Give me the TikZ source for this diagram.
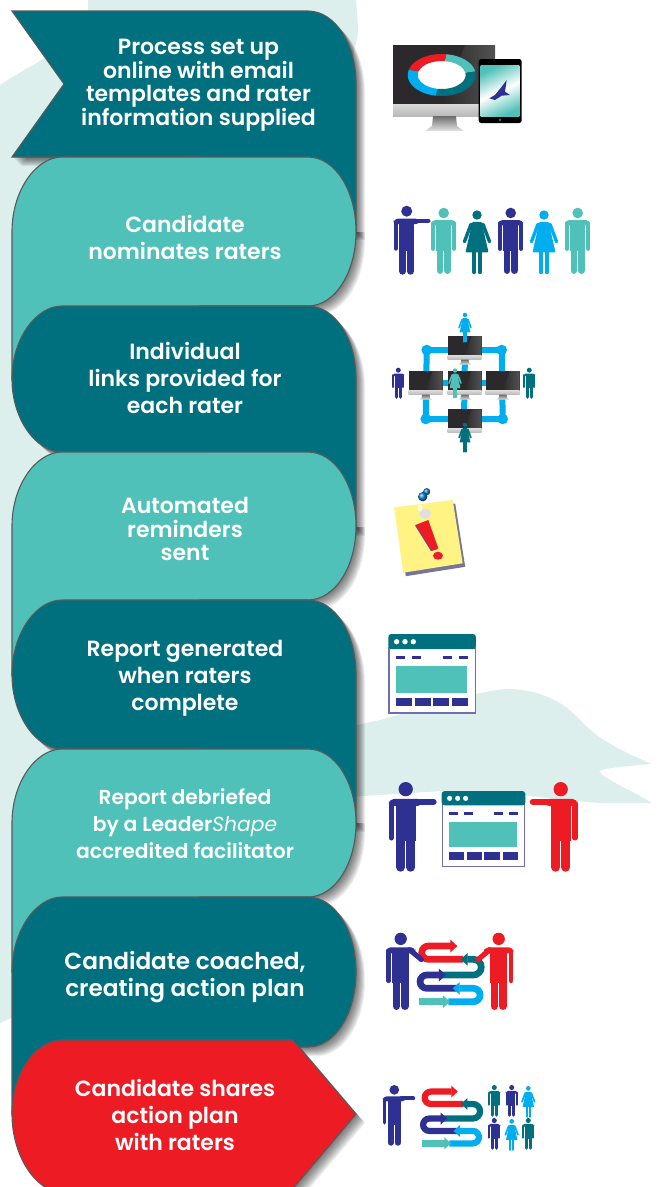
\documentclass[tikz,border=0pt]{standalone}
\usepackage{fontspec}
\setmainfont{Poppins}[BoldFont=Poppins SemiBold]
\usetikzlibrary{arrows.meta}

\definecolor{darkteal}{HTML}{00707F}
\definecolor{mint}{HTML}{4FC1B8}
\definecolor{alarm}{HTML}{ED1C24}
\definecolor{navy}{HTML}{2E3192}
\definecolor{sky}{HTML}{00AEEF}
\definecolor{pale}{HTML}{DCEFEC}
\definecolor{edge}{HTML}{58595B}
\definecolor{screen}{HTML}{2B292B}
\definecolor{frameline}{HTML}{6F6FB0}

\tikzset{
    steptext/.style={text=white,align=center,inner sep=0pt,font=\bfseries\fontsize{22}{27}\selectfont},
    tighttext/.style={steptext,font=\bfseries\fontsize{22}{23.5}\selectfont},
    widetext/.style={steptext,font=\bfseries\fontsize{23.2}{27}\selectfont},
    smalltext/.style={steptext,font=\bfseries\fontsize{20.3}{27}\selectfont},
    bandline/.style={draw=edge,line width=1.1pt},
    limb/.style={line cap=round},
    pipe/.style={sky,line width=6pt},
    snakeline/.style={-{Triangle[length=0pt 1.05,width=0pt 1.85]}},
}

% colour, y from which the shadow shows, outline
\newcommand\bandfill[3]{
    \begin{scope}
        \clip (0,#2) rectangle (660,1187);
        \foreach \d in {1,...,9}
            \fill[black,opacity=.075,shift={(\d,\d)}] #3;
    \end{scope}
    \path[bandline,fill=#1] #3;
}
% the left side runs on under the next band
\newcommand\bandleft[5]{
    \pgfmathsetmacro\midy{(#2+#3)/2}
    \pgfmathsetmacro\ctop{\midy-.55*(#3-#2)/2}
    \pgfmathsetmacro\cbot{\midy+.55*(#3-#2)/2}
    \bandfill{#1}{#5}{(12,\midy) .. controls (12,\ctop) and (36,#2) .. (62,#2) -- (308,#2)
        .. controls (335,#2) and (356,\ctop) .. (356,\midy) .. controls (356,\cbot) and (335,#3) .. (308,#3)
        -- (200,#3) -- (200,#4) -- (12,#4) -- cycle}
}
% the right side runs on under the next band
\newcommand\bandright[4]{
    \pgfmathsetmacro\midy{(#2+#3)/2}
    \pgfmathsetmacro\ctop{\midy-.55*(#3-#2)/2}
    \pgfmathsetmacro\cbot{\midy+.55*(#3-#2)/2}
    \bandfill{#1}{#2}{(12,\midy) .. controls (12,\ctop) and (36,#2) .. (62,#2) -- (308,#2)
        .. controls (335,#2) and (356,\ctop) .. (356,\midy) -- (356,#4) -- (200,#4) -- (200,#3) -- (62,#3)
        .. controls (36,#3) and (12,\cbot) .. (12,\midy) -- cycle}
}

\newcommand\armdown{\draw[limb,line width=\figs*4pt] (11,17) -- (11,43);}
\newcommand\armout{\draw[limb,line width=\figs*4.6pt] (8,15.2) -- (21.5,15.2);}
\newcommand\armreach{\draw[limb,line width=\figs*4.6pt] (8,15.2) -- (18.5,24);}

\newcommand\manfig[6][]{
    \begin{scope}[shift={(#2,#3)},x=#4pt,y=-#4pt,color=#5,#1]
        \def\figs{#4}
        \fill (0,5.5) circle (5.5);
        \fill[rounded corners=#4*4pt] (-13,18.5) -- (-13,13) -- (13,13) -- (13,18.5) -- cycle;
        \fill (-7.6,15) rectangle (7.6,45);
        \draw[limb,line width=#4*4pt] (-11,17) -- (-11,43);
        \draw[limb,line width=#4*6.8pt] (-3.9,44) -- (-3.9,65.6);
        \draw[limb,line width=#4*6.8pt] (3.9,44) -- (3.9,65.6);
        #6
    \end{scope}
}
\newcommand\womanfig[4]{
    \begin{scope}[shift={(#1,#2)},x=#3pt,y=-#3pt,color=#4]
        \fill (0,4.7) circle (4.7);
        \fill[rounded corners=#3*1pt] (-4.6,11.5) -- (4.6,11.5) -- (11.5,42) -- (-11.5,42) -- cycle;
        \draw[limb,line width=#3*3.4pt] (-6,14) -- (-12.6,31.5);
        \draw[limb,line width=#3*3.4pt] (6,14) -- (12.6,31.5);
        \draw[limb,line width=#3*4.2pt] (-2.8,42) -- (-2.8,61.8);
        \draw[limb,line width=#3*4.2pt] (2.8,42) -- (2.8,61.8);
    \end{scope}
}
\newcommand\monitorfig[3]{
    \begin{scope}[shift={(#1,#2)},x=#3pt,y=-#3pt]
        \fill[screen] (0,0) rectangle (102,59);
        \shade[left color=screen,right color=gray!65!black] (72,0) -- (102,0) -- (102,59) -- (50,59) -- cycle;
        \shade[top color=gray!30,bottom color=gray!55] (0,59) rectangle (102,71);
        \shade[top color=gray!85!black,bottom color=gray!20] (40,71) -- (63,71) -- (64,81) -- (71,86) -- (32,86) -- (39,81) -- cycle;
    \end{scope}
}
\newcommand\windowfig[3]{
    \begin{scope}[shift={(#1,#2)},x=#3pt,y=-#3pt]
        \filldraw[fill=white,draw=frameline,line width=1.2pt] (.6,14) rectangle (87,79);
        \fill[darkteal,rounded corners=3pt] (0,15) -- (0,0) -- (87.6,0) -- (87.6,15) -- cycle;
        \foreach \cx in {8.3,16.7,25}
            \fill[white] (\cx,7.7) circle (2.7);
        \foreach \cx in {7.7,23.7,54.7,70.7}
            \fill[navy] (\cx,22) rectangle ++(9,3);
        \fill[mint] (7.7,32) rectangle (78.7,59);
        \foreach \cx in {7.7,26.7,44.7,63.7}
            \fill[navy] (\cx,64) rectangle ++(16,8);
    \end{scope}
}
\newcommand\snakefig[3]{
    \begin{scope}[shift={(#1,#2)},x=#3pt,y=-#3pt,line width=#3*6.7pt]
        \draw[alarm,snakeline] (46.7,19.3) -- (11.7,19.3) arc[start angle=90,end angle=270,radius=6.65] -- (40.7,6);
        \draw[darkteal,snakeline] (25,35) -- (56.7,35) arc[start angle=90,end angle=-90,radius=7.85] -- (44,19.3);
        \draw[navy,snakeline] (40.7,48.3) -- (10,48.3) arc[start angle=90,end angle=270,radius=6.65] -- (29.3,35);
        \draw[sky,snakeline] (31.7,61.7) -- (56.7,61.7) arc[start angle=90,end angle=-90,radius=6.7] -- (36,48.3);
        \draw[mint,snakeline] (2.3,61.7) -- (33.3,61.7);
    \end{scope}
}

\begin{document}
\begin{tikzpicture}[x=1pt,y=-1pt]
    \useasboundingbox (0,0) rectangle (660,1187);

    % pale shapes behind everything
    \fill[pale] (0,85) .. controls (20,72) and (35,64) .. (45,58) -- (88,35) -- (88,0) -- (356,0)
        .. controls (358,20) and (358,30) .. (358,33) -- (340,120) -- (200,300) -- (200,1000) -- (12.7,1017) -- (0,1023) -- cycle;
    \fill[pale] (300,725) -- (357,725) -- (380,720) -- (440,703) .. controls (470,695) and (495,689) .. (510,689)
        .. controls (535,690) and (550,697) .. (563,705) .. controls (575,713) and (585,726) .. (593,732)
        .. controls (605,742) and (625,753) .. (652,764) .. controls (630,766) and (610,767) .. (599,771)
        .. controls (605,780) and (635,792) .. (652,803) -- (600,803) .. controls (550,799) and (490,790) .. (442,791)
        -- (380,795) -- (300,800) -- cycle;

    % bands, top to bottom
    \bandfill{darkteal}{0}{(12,11) -- (308,11) .. controls (335,11) and (356,44) .. (356,84) -- (356,231)
        -- (200,231) -- (200,157) -- (12,157) -- (64,84) -- cycle}
    \bandleft{mint}{157}{306}{379}{232}
    \bandright{darkteal}{306}{452}{527}
    \bandleft{mint}{452}{600}{675}{527}
    \bandright{darkteal}{600}{749}{823}
    \bandleft{mint}{749}{897}{972}{823}
    \bandleft{darkteal}{897}{1047}{1114}{897}
    \bandfill{alarm}{0}{(12,1114) .. controls (12,1072) and (36,1040) .. (62,1040) -- (293,1040) -- (356,1114)
        -- (290,1192) -- (62,1192) .. controls (36,1192) and (12,1156) .. (12,1114) -- cycle}

    \node[tighttext] (setup) at (198.5,85) {Process set up\\online with email\\templates and rater\\information supplied};
    \node[steptext] (nominate) at (185,237) {Candidate\\nominates raters};
    \node[steptext] (links) at (185,378) {Individual\\links provided for\\each rater};
    \node[tighttext] (reminders) at (185,529) {Automated\\reminders\\sent};
    \node[steptext] (generated) at (185,678) {Report generated\\when raters\\complete};
    \node[smalltext] (debrief) at (185,824) {Report debriefed\\by a Leader{\mdseries\itshape Shape}\\accredited facilitator};
    \node[widetext] (coached) at (185,977) {Candidate coached,\\creating action plan};
    \node[steptext] (shares) at (175,1115) {Candidate shares\\action plan\\with raters};

    % desktop and tablet
    \monitorfig{393}{45}{1}
    \begin{scope}[shift={(441.7,75)}]
        \fill[white] (0,0) ellipse [x radius=26,y radius=16];
        \foreach \segcol/\a/\b in {darkteal/-10/100,sky/100/195,alarm/195/278,mint/278/350}
            \fill[\segcol] ({34*cos(\a)},{21*sin(\a)}) arc[start angle=\a,end angle=\b,x radius=34,y radius=21]
                -- ({24*cos(\b)},{14*sin(\b)}) arc[start angle=\b,end angle=\a,x radius=24,y radius=14] -- cycle;
    \end{scope}
    \fill[black,rounded corners=2.5pt] (478.7,59) rectangle (521.7,123);
    \shade[top color=mint,bottom color=mint,middle color=white,shading angle=25] (480.7,65) rectangle (519.3,116.7);
    \fill[navy] (489.3,98.3) -- (495,95) -- (501.7,86.7) -- (506.7,80) -- (505,91.7) -- (510,95) -- (501.7,95.7) -- (495,100) -- cycle;
    \fill[gray!70!black] (500,119.8) circle (1.5);

    % people under the candidate band
    \manfig{406.7}{205.7}{1}{navy}{\armout}
    \manfig{443.7}{207.7}{.96}{mint}{\armdown}
    \womanfig{477}{210.3}{1}{darkteal}
    \manfig{510.7}{207.7}{.96}{navy}{\armdown}
    \womanfig{544}{210.3}{1}{sky}
    \manfig{577.7}{207.7}{.96}{mint}{\armdown}

    % network of screens
    \coordinate (nw) at (426.7,350);
    \coordinate (ne) at (501.7,350);
    \coordinate (se) at (502.7,419);
    \coordinate (sw) at (425.7,419);
    \coordinate (top) at (465,350);
    \coordinate (bottom) at (464,419);
    \coordinate (west) at (426,382.7);
    \coordinate (east) at (503,382.7);
    \draw[pipe] (nw) -- (ne) -- (se) -- (sw) -- cycle;
    \draw[pipe] (top) -- (bottom);
    \draw[pipe] (west) -- (east);
    \foreach \corner in {nw,ne,se,sw}
        \fill[sky] (\corner) circle (5.3);
    \monitorfig{447.7}{336}{.333}
    \monitorfig{408.7}{371}{.333}
    \monitorfig{447.7}{371}{.333}
    \monitorfig{485.7}{371}{.333}
    \monitorfig{447.7}{409.3}{.333}
    \womanfig{465}{312.7}{.47}{sky}
    \manfig{398.3}{367.7}{.45}{navy}{\armdown}
    \manfig{529.3}{367.7}{.45}{darkteal}{\armdown}
    \womanfig{455}{368.3}{.47}{mint}
    \womanfig{465}{422.7}{.47}{darkteal}

    % note with pin
    \fill[frameline!55!gray] (396.5,510.8) -- (455.2,503.5) -- (465.2,566.8) -- (405.8,576.2) -- cycle;
    \fill[yellow!45!white!95!orange] (394,507.3) -- (452.7,500) -- (462.7,563.3) -- (403.3,572.7) -- cycle;
    \fill[navy!80] (415,525.5) -- (427.5,520.5) -- (437.5,549) -- (431,551.2) -- cycle;
    \fill[alarm] (415.7,525) -- (428.3,520) -- (438.3,548.3) -- (431.7,550.7) -- cycle;
    \fill[alarm] (438,555.7) ellipse [x radius=5,y radius=4];
    \fill[gray!25] (425,513.5) ellipse [x radius=6,y radius=5];
    \fill[white!85!yellow] (420,508) ellipse [x radius=2.5,y radius=3.5];
    \shade[ball color=sky!60!navy] (426.7,491.7) circle (3.6);
    \shade[ball color=sky!60!navy] (422.7,496.7) circle (4.7);

    % report screens and people
    \windowfig{388.3}{634}{1}
    \windowfig{441.7}{791}{.955}
    \manfig{405.7}{782}{1.3}{navy}{\armout}
    \manfig[xscale=-1]{560.7}{782}{1.3}{alarm}{\armout}

    % coaching
    \snakefig{416.7}{940}{1}
    \manfig{400.7}{932.7}{1.12}{navy}{\armreach}
    \manfig[xscale=-1]{498.7}{932.7}{1.12}{alarm}{\armreach}

    % sharing
    \snakefig{420}{1086}{.93}
    \manfig{394.3}{1085}{.88}{navy}{\armout}
    \manfig{494.3}{1085}{.46}{darkteal}{\armdown}
    \manfig{511.7}{1085}{.46}{navy}{\armdown}
    \womanfig{528.3}{1086}{.5}{sky}
    \manfig{494.3}{1118}{.46}{navy}{\armdown}
    \womanfig{511.7}{1119}{.5}{sky}
    \manfig{528.3}{1118}{.46}{darkteal}{\armdown}
\end{tikzpicture}
\end{document}
